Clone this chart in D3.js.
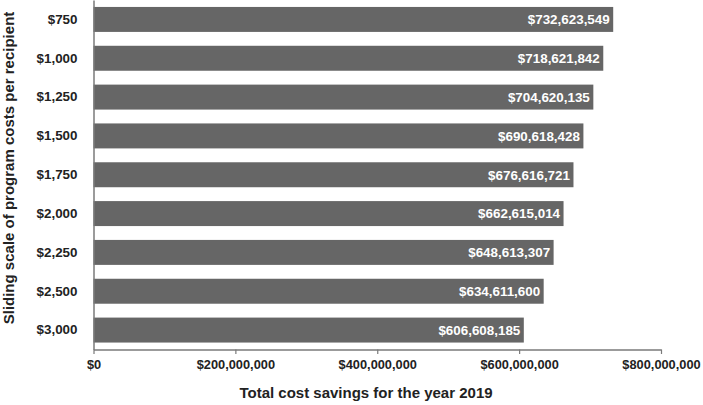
<!DOCTYPE html>
<html>
<head>
<meta charset="utf-8">
<script src="https://cdn.jsdelivr.net/npm/d3@7"></script>
<style>
  html, body { margin: 0; padding: 0; background: #fff; }
  svg { display: block; font-family: "Liberation Sans", Arial, sans-serif; }
</style>
</head>
<body>
<svg id="chart" width="703" height="405"></svg>
<script>
const categories = ["$750", "$1,000", "$1,250", "$1,500", "$1,750", "$2,000", "$2,250", "$2,500", "$3,000"];
const savings = [732623549, 718621842, 704620135, 690618428, 676616721, 662615014, 648613307, 634611600, 606608185];
const xTicks = [0, 200000000, 400000000, 600000000, 800000000];
const xTitle = "Total cost savings for the year 2019";
const yTitle = "Sliding scale of program costs per recipient";

(function () {
const svg = d3.select("#chart");
const mLeft = 93.5, mRight = 661, mTop = 0, mBottom = 349.5;

const x = d3.scaleLinear().domain([0, 800000000]).range([mLeft, mRight]);
const y = d3.scaleBand().domain(categories).range([mTop, mBottom])
  .paddingInner(0.357).paddingOuter(0.179);

const fmt = d3.format("$,.0f");
const data = categories.map((c, i) => ({ c, v: savings[i] }));

// bars
svg.append("g").selectAll("rect").data(data).join("rect")
  .attr("x", x(0))
  .attr("y", d => y(d.c))
  .attr("width", d => x(d.v) - x(0))
  .attr("height", y.bandwidth())
  .attr("fill", "#666666");

// bar labels
svg.append("g").selectAll("text").data(data).join("text")
  .attr("x", d => x(d.v) - 3.5)
  .attr("y", d => y(d.c) + y.bandwidth() / 2)
  .attr("dy", "0.36em")
  .attr("text-anchor", "end")
  .attr("fill", "#fff")
  .attr("font-weight", "bold")
  .attr("font-size", "13.4px")
  .text(d => fmt(d.v));

// x axis
const xAxis = svg.append("g")
  .attr("transform", `translate(0,${mBottom})`)
  .call(d3.axisBottom(x).tickValues(xTicks).tickFormat(fmt).tickSize(4.5).tickSizeOuter(0));
xAxis.select(".domain").attr("stroke", "#7a7a7a").attr("stroke-width", 1.5);
xAxis.selectAll(".tick line").attr("stroke", "#7a7a7a").attr("stroke-width", 1.2);
xAxis.selectAll(".tick text")
  .attr("y", 10)
  .attr("font-size", "12.8px").attr("font-weight", "bold").attr("fill", "#222")
  .attr("font-family", "Liberation Sans, Arial, sans-serif");

// y axis
const yAxis = svg.append("g")
  .attr("transform", `translate(${mLeft},0)`)
  .call(d3.axisLeft(y).tickSize(0).tickPadding(16));
yAxis.select(".domain").attr("stroke", "#7a7a7a").attr("stroke-width", 1.5);
yAxis.selectAll(".tick text")
  .attr("font-size", "13.4px").attr("font-weight", "bold").attr("fill", "#222")
  .attr("font-family", "Liberation Sans, Arial, sans-serif");

// axis titles
svg.append("text")
  .attr("x", 366)
  .attr("y", 393)
  .attr("dy", "0.36em")
  .attr("text-anchor", "middle")
  .attr("font-size", "15px").attr("font-weight", "bold").attr("fill", "#222")
  .text(xTitle);

svg.append("text")
  .attr("transform", `translate(13.5,168) rotate(-90)`)
  .attr("text-anchor", "middle")
  .attr("font-size", "15px").attr("font-weight", "bold").attr("fill", "#222")
  .text(yTitle);
})();
</script>
</body>
</html>
